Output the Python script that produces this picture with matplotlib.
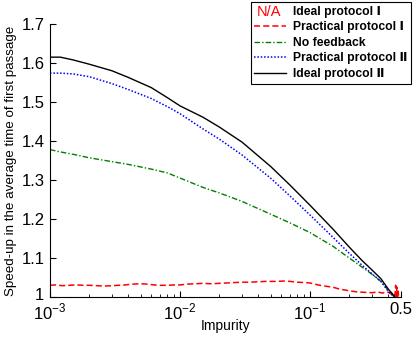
import matplotlib
matplotlib.use("Agg")
import matplotlib.pyplot as plt
from matplotlib.legend_handler import HandlerBase
from matplotlib.text import Text
from matplotlib.lines import Line2D
from matplotlib.transforms import ScaledTranslation
from matplotlib.ticker import FixedLocator, FixedFormatter, LogLocator, NullFormatter

plt.rcParams['font.family'] = ['Liberation Sans', 'DejaVu Sans']
plt.rcParams['mathtext.fontset'] = 'custom'
plt.rcParams['mathtext.rm'] = 'Liberation Sans'

# ---- data ----
impurity = [0.001, 0.0012, 0.0015, 0.002, 0.003, 0.004, 0.006, 0.008, 0.01, 0.015,
            0.02, 0.03, 0.05, 0.07, 0.1, 0.15, 0.2, 0.25, 0.3, 0.35, 0.4, 0.45, 0.47]
ideal_II = [1.615, 1.615, 1.608, 1.597, 1.580, 1.563, 1.537, 1.511, 1.490, 1.461,
            1.436, 1.397, 1.334, 1.287, 1.235, 1.174, 1.128, 1.094, 1.069, 1.047, 1.020, 1.000, 0.99]
practical_II = [1.574, 1.574, 1.572, 1.565, 1.547, 1.532, 1.509, 1.488, 1.470, 1.431,
                1.405, 1.364, 1.304, 1.259, 1.210, 1.153, 1.112, 1.082, 1.059, 1.040, 1.014, 0.998, 0.99]
no_feedback = [1.378, 1.372, 1.366, 1.357, 1.347, 1.340, 1.328, 1.318, 1.305, 1.281,
               1.267, 1.245, 1.212, 1.190, 1.165, 1.130, 1.100, 1.077, 1.058, 1.040, 1.017, 0.998, 0.99]

red_x = [0.001, 0.0011, 0.00125, 0.0014, 0.0016, 0.0018, 0.002, 0.0023, 0.0026, 0.003,
         0.0034, 0.0038, 0.0043, 0.005, 0.0056, 0.0063, 0.007, 0.008, 0.009, 0.01,
         0.0115, 0.013, 0.015, 0.017, 0.02, 0.023, 0.026, 0.03, 0.034, 0.04,
         0.045, 0.05, 0.056, 0.063, 0.07, 0.08, 0.09, 0.1, 0.115, 0.13,
         0.15, 0.17, 0.2, 0.23, 0.26, 0.3, 0.33, 0.36, 0.39, 0.42,
         0.44, 0.45, 0.455, 0.46, 0.465, 0.47, 0.475, 0.48]
practical_I = [1.030, 1.031, 1.029, 1.030, 1.031, 1.030, 1.030, 1.029, 1.028, 1.029,
               1.030, 1.031, 1.033, 1.034, 1.033, 1.031, 1.030, 1.030, 1.031, 1.031,
               1.033, 1.034, 1.035, 1.034, 1.035, 1.036, 1.037, 1.038, 1.038, 1.039,
               1.040, 1.040, 1.040, 1.041, 1.040, 1.038, 1.037, 1.036, 1.031, 1.028,
               1.025, 1.020, 1.016, 1.013, 1.012, 1.011, 1.013, 1.010, 1.014, 1.008,
               1.012, 1.004, 1.030, 1.002, 1.025, 1.000, 1.015, 1.000]

labels = ['Ideal protocol \u2160', 'Practical protocol \u2160', 'No feedback',
          'Practical protocol \u2161', 'Ideal protocol \u2161']
xtick_vals = [0.001, 0.01, 0.1, 0.5]
xtick_labels = ['$10^{-3}$', '$10^{-2}$', '$10^{-1}$', '0.5']
ytick_vals = [1.0, 1.1, 1.2, 1.3, 1.4, 1.5, 1.6, 1.7]
ytick_labels = ['1', '1.1', '1.2', '1.3', '1.4', '1.5', '1.6', '1.7']

# ---- figure ----
fig = plt.figure(figsize=(4.15, 3.37), dpi=100)
ax = fig.add_axes([50 / 415, 1 - 297 / 337, 351 / 415, 273 / 337])

ax.plot(red_x, practical_I, color='red', linestyle=(0, (4, 2)), linewidth=1.1)
ax.plot(impurity, no_feedback, color='#008000', linestyle=(0, (4, 1.5, 1, 1.5)), linewidth=1.0)
ax.plot(impurity, practical_II, color='blue', linestyle=(0, (1, 1.2)), linewidth=1.1)
ax.plot(impurity, ideal_II, color='black', linestyle='-', linewidth=1.0)

ax.set_xscale('log')
ax.set_xlim(0.001, 0.5)
ax.set_ylim(1.0, 1.7)
ax.xaxis.set_major_locator(FixedLocator(xtick_vals))
ax.xaxis.set_major_formatter(FixedFormatter(xtick_labels))
ax.xaxis.set_minor_locator(LogLocator(base=10, subs=range(2, 10), numticks=20))
ax.xaxis.set_minor_formatter(NullFormatter())
ax.yaxis.set_major_locator(FixedLocator(ytick_vals))
ax.yaxis.set_major_formatter(FixedFormatter(ytick_labels))

ax.spines['top'].set_visible(False)
ax.spines['right'].set_visible(False)
ax.tick_params(axis='both', which='major', direction='in', length=4, width=0.8,
               labelsize=12, pad=4)
ax.tick_params(axis='x', which='minor', direction='in', length=2, width=0.6)
ax.tick_params(axis='x', which='major', pad=3.5)

# lift the bottom y tick label slightly so it clears the 10^-3 label
lbl0 = ax.yaxis.get_major_ticks()[0].label1
lbl0.set_transform(lbl0.get_transform() + ScaledTranslation(0, 2.5 / 72, fig.dpi_scale_trans))

ax.set_xlabel('Impurity', fontsize=10, labelpad=-2.5)
ax.set_ylabel('Speed-up in the average time of first passage', fontsize=9.6, labelpad=3)


class NAHandler(HandlerBase):
    def create_artists(self, legend, orig_handle, xdescent, ydescent, width, height,
                       fontsize, trans):
        t = Text(xdescent + width * 0.5 - 1, ydescent + height * 0.5 - 1, 'N/A',
                 color='red', fontsize=10.5, ha='center', va='center',
                 family=['Liberation Sans', 'DejaVu Sans'], transform=trans)
        return [t]


na_handle = Line2D([], [], color='red')
h_pI = Line2D([], [], color='red', linestyle=(0, (4, 2)), linewidth=1.1)
h_nf = Line2D([], [], color='#008000', linestyle=(0, (4, 1.5, 1, 1.5)), linewidth=1.0)
h_pII = Line2D([], [], color='blue', linestyle=(0, (1, 1.2)), linewidth=1.1)
h_iII = Line2D([], [], color='black', linewidth=1.0)

leg = fig.legend([na_handle, h_pI, h_nf, h_pII, h_iII], labels,
                 handler_map={na_handle: NAHandler()},
                 loc='upper right', bbox_to_anchor=(411 / 415, 1 - 2 / 337),
                 prop={'weight': 'bold', 'size': 8.7}, frameon=True, fancybox=False,
                 edgecolor='black', framealpha=1, handlelength=2.6, handletextpad=0.6,
                 borderpad=0.3, labelspacing=0.3, borderaxespad=0)
leg.get_frame().set_linewidth(0.8)

fig.savefig('out.png', dpi=100)
